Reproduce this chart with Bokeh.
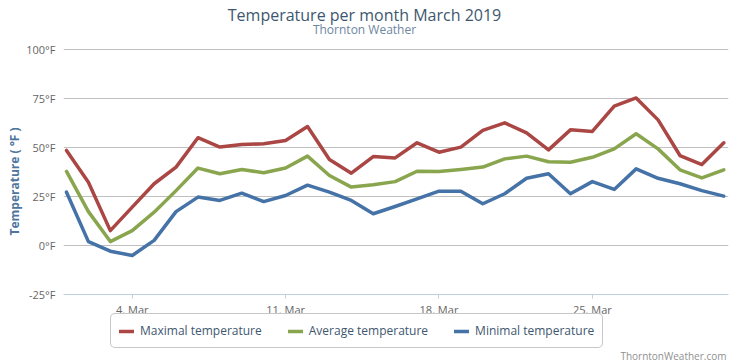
import math
from bokeh.plotting import figure
from bokeh.models import (Range1d, FixedTicker, Label, Legend, LegendItem, ColumnDataSource)
from bokeh.embed import file_html
from bokeh.resources import INLINE

days = list(range(1, 32))
max_t = [48.5, 32.3, 7.6, 19.6, 31.5, 40.0, 55.0, 50.2, 51.5, 51.9, 53.6, 60.7, 43.9, 36.9, 45.4,
         44.7, 52.4, 47.6, 50.2, 58.7, 62.6, 57.5, 48.8, 59.0, 58.2, 71.1, 75.3, 64.1, 45.9, 41.3, 52.4]
avg_t = [37.8, 17.3, 2.0, 7.6, 17.0, 28.0, 39.5, 36.6, 38.8, 37.1, 39.5, 45.6, 35.7, 29.8, 31.0,
         32.6, 37.9, 37.8, 38.8, 40.0, 44.2, 45.6, 42.7, 42.5, 45.0, 49.3, 57.0, 49.3, 38.6, 34.5, 38.6]
min_t = [27.2, 2.0, -2.9, -5.1, 2.6, 17.3, 24.7, 23.0, 26.7, 22.4, 25.5, 30.8, 27.2, 23.0, 16.2,
         19.9, 23.8, 27.7, 27.7, 21.3, 26.4, 34.3, 36.6, 26.4, 32.6, 28.6, 39.1, 34.3, 31.5, 28.0, 25.2]

x_ticks = [4, 11, 18, 25]
x_tick_labels = ["4. Mar", "11. Mar", "18. Mar", "25. Mar"]
y_ticks = [-25, 0, 25, 50, 75, 100]
y_tick_labels = ["-25°F", "0°F", "25°F", "50°F", "75°F", "100°F"]

series_names = ["Maximal temperature", "Average temperature", "Minimal temperature"]
series_colors = ["#AA4643", "#89A54E", "#4572A7"]

FONT = "Open Sans"

# frame spans the full height; axis floor (-25) drawn inside via fixed_location
p = figure(width=731, height=362, output_backend="svg", toolbar_location=None,
           x_range=Range1d(0.863, 31.215), y_range=Range1d(-59.69, 125.0),
           min_border_left=63, min_border_right=3, min_border_top=0, min_border_bottom=0)
p.outline_line_color = None
p.background_fill_color = "white"
p.border_fill_color = "white"

# axes
p.xaxis.fixed_location = y_ticks[0]
p.xaxis.ticker = FixedTicker(ticks=x_ticks)
p.xaxis.major_label_overrides = {t: l for t, l in zip(x_ticks, x_tick_labels)}
p.xaxis.axis_line_color = "#C0D0E0"
p.xaxis.major_tick_line_color = "#C0D0E0"
p.xaxis.major_tick_out = 4
p.xaxis.major_tick_in = 0
p.xaxis.minor_tick_line_color = None
p.xaxis.major_label_standoff = 3
p.xaxis.major_label_text_color = "#666666"
p.xaxis.major_label_text_font = FONT
p.xaxis.major_label_text_font_size = "11px"

p.yaxis.ticker = FixedTicker(ticks=y_ticks)
p.yaxis.major_label_overrides = {t: l for t, l in zip(y_ticks, y_tick_labels)}
p.yaxis.axis_line_color = None
p.yaxis.major_tick_line_color = None
p.yaxis.minor_tick_line_color = None
p.yaxis.major_tick_out = 0
p.yaxis.major_tick_in = 0
p.yaxis.major_label_standoff = 8
p.yaxis.major_label_text_color = "#666666"
p.yaxis.major_label_text_font = FONT
p.yaxis.major_label_text_font_size = "11px"
p.yaxis.axis_label = "Temperature ( °F )"
p.yaxis.axis_label_standoff = 0
p.yaxis.axis_label_text_font = FONT
p.yaxis.axis_label_text_font_size = "12px"
p.yaxis.axis_label_text_font_style = "bold"
p.yaxis.axis_label_text_color = "#4D759E"

p.xgrid.grid_line_color = None
p.ygrid.grid_line_color = "#C0C0C0"
p.ygrid.grid_line_width = 1

src = ColumnDataSource(dict(day=days, mx=max_t, av=avg_t, mn=min_t))
renderers = []
for col, color in zip(["mx", "av", "mn"], series_colors):
    r = p.line("day", col, source=src, line_color=color, line_width=3.5,
               line_join="round", line_cap="round")
    renderers.append(r)

legend = Legend(items=[LegendItem(label=n, renderers=[r]) for n, r in zip(series_names, renderers)],
                orientation="horizontal", location=(47, 14))
legend.label_text_font = FONT
legend.label_text_font_size = "12px"
legend.label_text_color = "#3E576F"
legend.glyph_width = 15
legend.glyph_height = 12
legend.label_height = 12
legend.label_standoff = 6
legend.spacing = 26
legend.padding = 8
legend.margin = 0
legend.border_line_color = "#909090"
legend.border_line_width = 1
legend.background_fill_color = "white"
legend.background_fill_alpha = 1
try:
    legend.border_radius = 5
except Exception:
    pass
p.add_layout(legend)

# titles and credits
p.add_layout(Label(x=301, y=348, x_units="screen", y_units="screen",
                   text="Temperature per month March 2019", text_align="center",
                   text_baseline="middle", text_font=FONT, text_font_size="16px",
                   text_color="#3E576F"))
p.add_layout(Label(x=301, y=333, x_units="screen", y_units="screen",
                   text="Thornton Weather", text_align="center",
                   text_baseline="middle", text_font=FONT, text_font_size="12px",
                   text_color="#6D869F"))
p.add_layout(Label(x=663, y=7, x_units="screen", y_units="screen",
                   text="ThorntonWeather.com", text_align="right",
                   text_baseline="middle", text_font=FONT, text_font_size="10px",
                   text_color="#909090"))

open("out.html", "w").write(file_html(p, INLINE))
